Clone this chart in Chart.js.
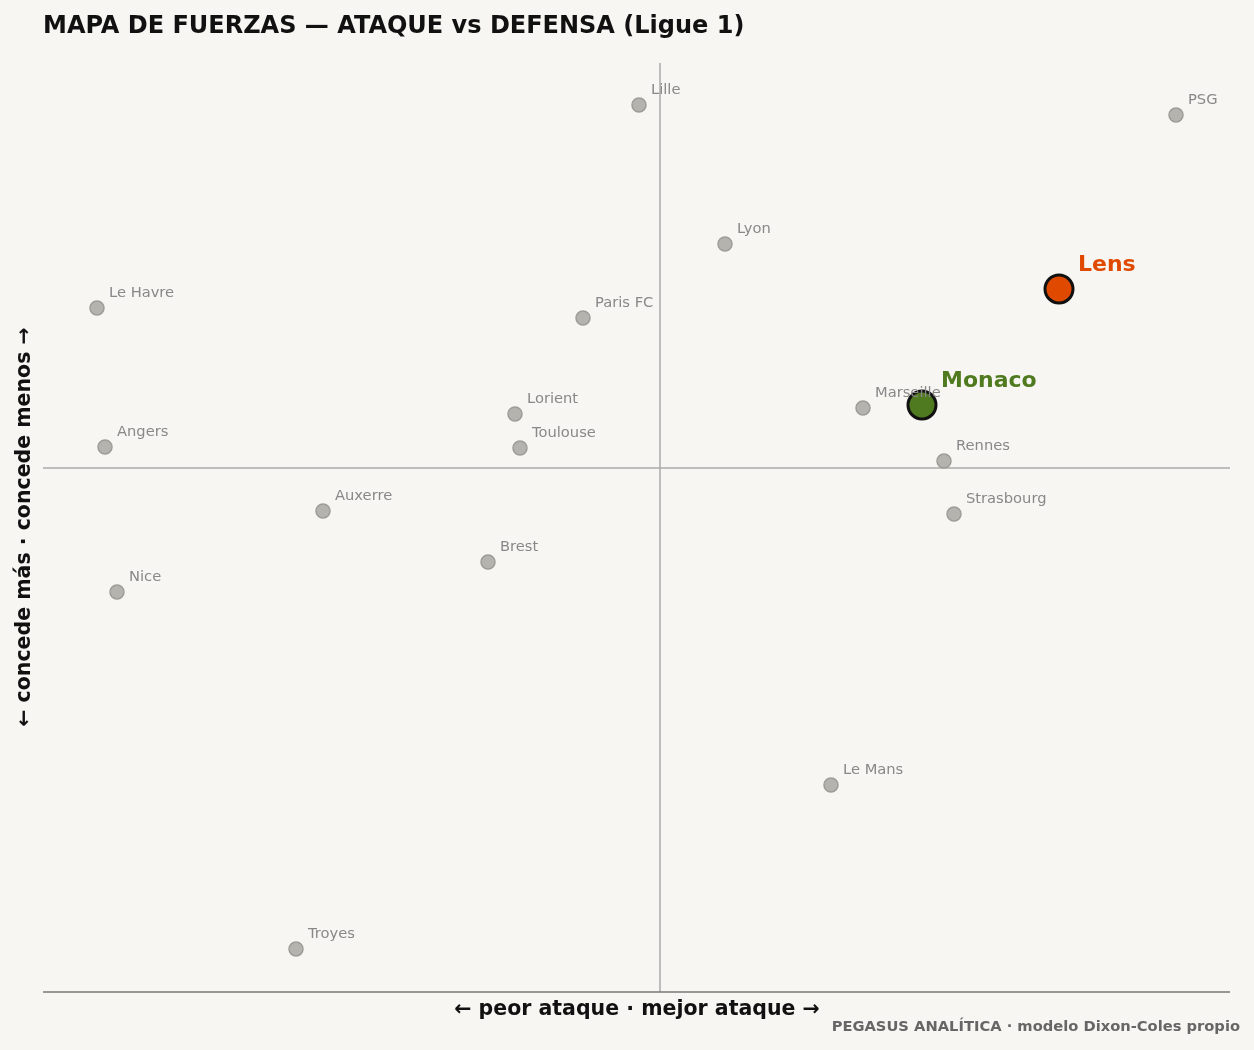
<!DOCTYPE html><html><head><meta charset="utf-8">
<script src="https://cdn.jsdelivr.net/npm/chart.js@4"></script>
<style>html,body{margin:0;padding:0;background:#f7f6f3;}#w{width:1254px;height:1050px;}</style></head><body><div id="w"><canvas id="c"></canvas></div>
<script>
const teams=["Lille","PSG","Lyon","Le Havre","Paris FC","Marseille","Lorient","Angers","Toulouse","Rennes","Auxerre","Strasbourg","Brest","Nice","Le Mans","Troyes"];
const attack=[-0.21,5.16,0.65,-5.63,-0.77,2.03,-1.45,-5.55,-1.40,2.84,-3.37,2.94,-1.72,-5.43,1.71,-3.64];
const defense=[3.63,3.53,2.24,1.60,1.50,0.60,0.54,0.21,0.20,0.07,-0.43,-0.46,-0.94,-1.24,-3.17,-4.81];
const hlTeams=["Lens","Monaco"];
const hlAttack=[3.99,2.62];
const hlDefense=[1.79,0.63];
const hlColors=["#e04a00","#4f7a1f"];
const F="DejaVu Sans, sans-serif";
const deco={id:'deco',beforeDatasetsDraw(ch){const {ctx,chartArea:a,scales:{x,y}}=ch;ctx.save();
ctx.strokeStyle='#aaa';ctx.lineWidth=1.5;ctx.beginPath();ctx.moveTo(x.getPixelForValue(0),a.top);ctx.lineTo(x.getPixelForValue(0),a.bottom);
ctx.moveTo(a.left,y.getPixelForValue(0));ctx.lineTo(a.right,y.getPixelForValue(0));ctx.stroke();
ctx.strokeStyle='#777';ctx.beginPath();ctx.moveTo(a.left,a.bottom);ctx.lineTo(a.right,a.bottom);ctx.stroke();ctx.restore();},
afterDatasetsDraw(ch){const {ctx,scales:{x,y}}=ch;ctx.save();ctx.textBaseline='middle';
ctx.font='14.7px '+F;ctx.fillStyle='#888';
teams.forEach((t,i)=>ctx.fillText(t,x.getPixelForValue(attack[i])+12,y.getPixelForValue(defense[i])-15));
ctx.font='bold 22px '+F;hlTeams.forEach((t,i)=>{ctx.fillStyle=hlColors[i];ctx.fillText(t,x.getPixelForValue(hlAttack[i])+19,y.getPixelForValue(hlDefense[i])-24);});
ctx.fillStyle='#111';ctx.font='bold 24px '+F;ctx.fillText('MAPA DE FUERZAS — ATAQUE vs DEFENSA (Ligue 1)',43,27);
ctx.font='bold 20.5px '+F;ctx.textAlign='center';ctx.fillText('← peor ataque · mejor ataque →',637,1010);
ctx.save();ctx.translate(25,527);ctx.rotate(-Math.PI/2);ctx.fillText('← concede más · concede menos →',0,0);ctx.restore();
ctx.textAlign='right';ctx.fillStyle='#666';ctx.font='bold 14.7px '+F;ctx.fillText('PEGASUS ANALÍTICA · modelo Dixon-Coles propio',1240,1027);
ctx.restore();}};
new Chart(document.getElementById('c'),{type:'scatter',
data:{datasets:[
{data:teams.map((t,i)=>({x:attack[i],y:defense[i]})),pointRadius:7,backgroundColor:'#b5b3ae',borderColor:'#9e9c98',borderWidth:1.5},
{data:hlTeams.map((t,i)=>({x:hlAttack[i],y:hlDefense[i]})),pointRadius:14,backgroundColor:hlColors,borderColor:'#111',borderWidth:3}]},
options:{responsive:true,maintainAspectRatio:false,animation:false,layout:{padding:{left:43,right:24,top:63,bottom:58}},
plugins:{legend:{display:false},tooltip:{enabled:false}},
scales:{x:{display:false,min:-6.17,max:5.70},y:{display:false,min:-5.24,max:4.05}}},plugins:[deco]});
</script></body></html>
